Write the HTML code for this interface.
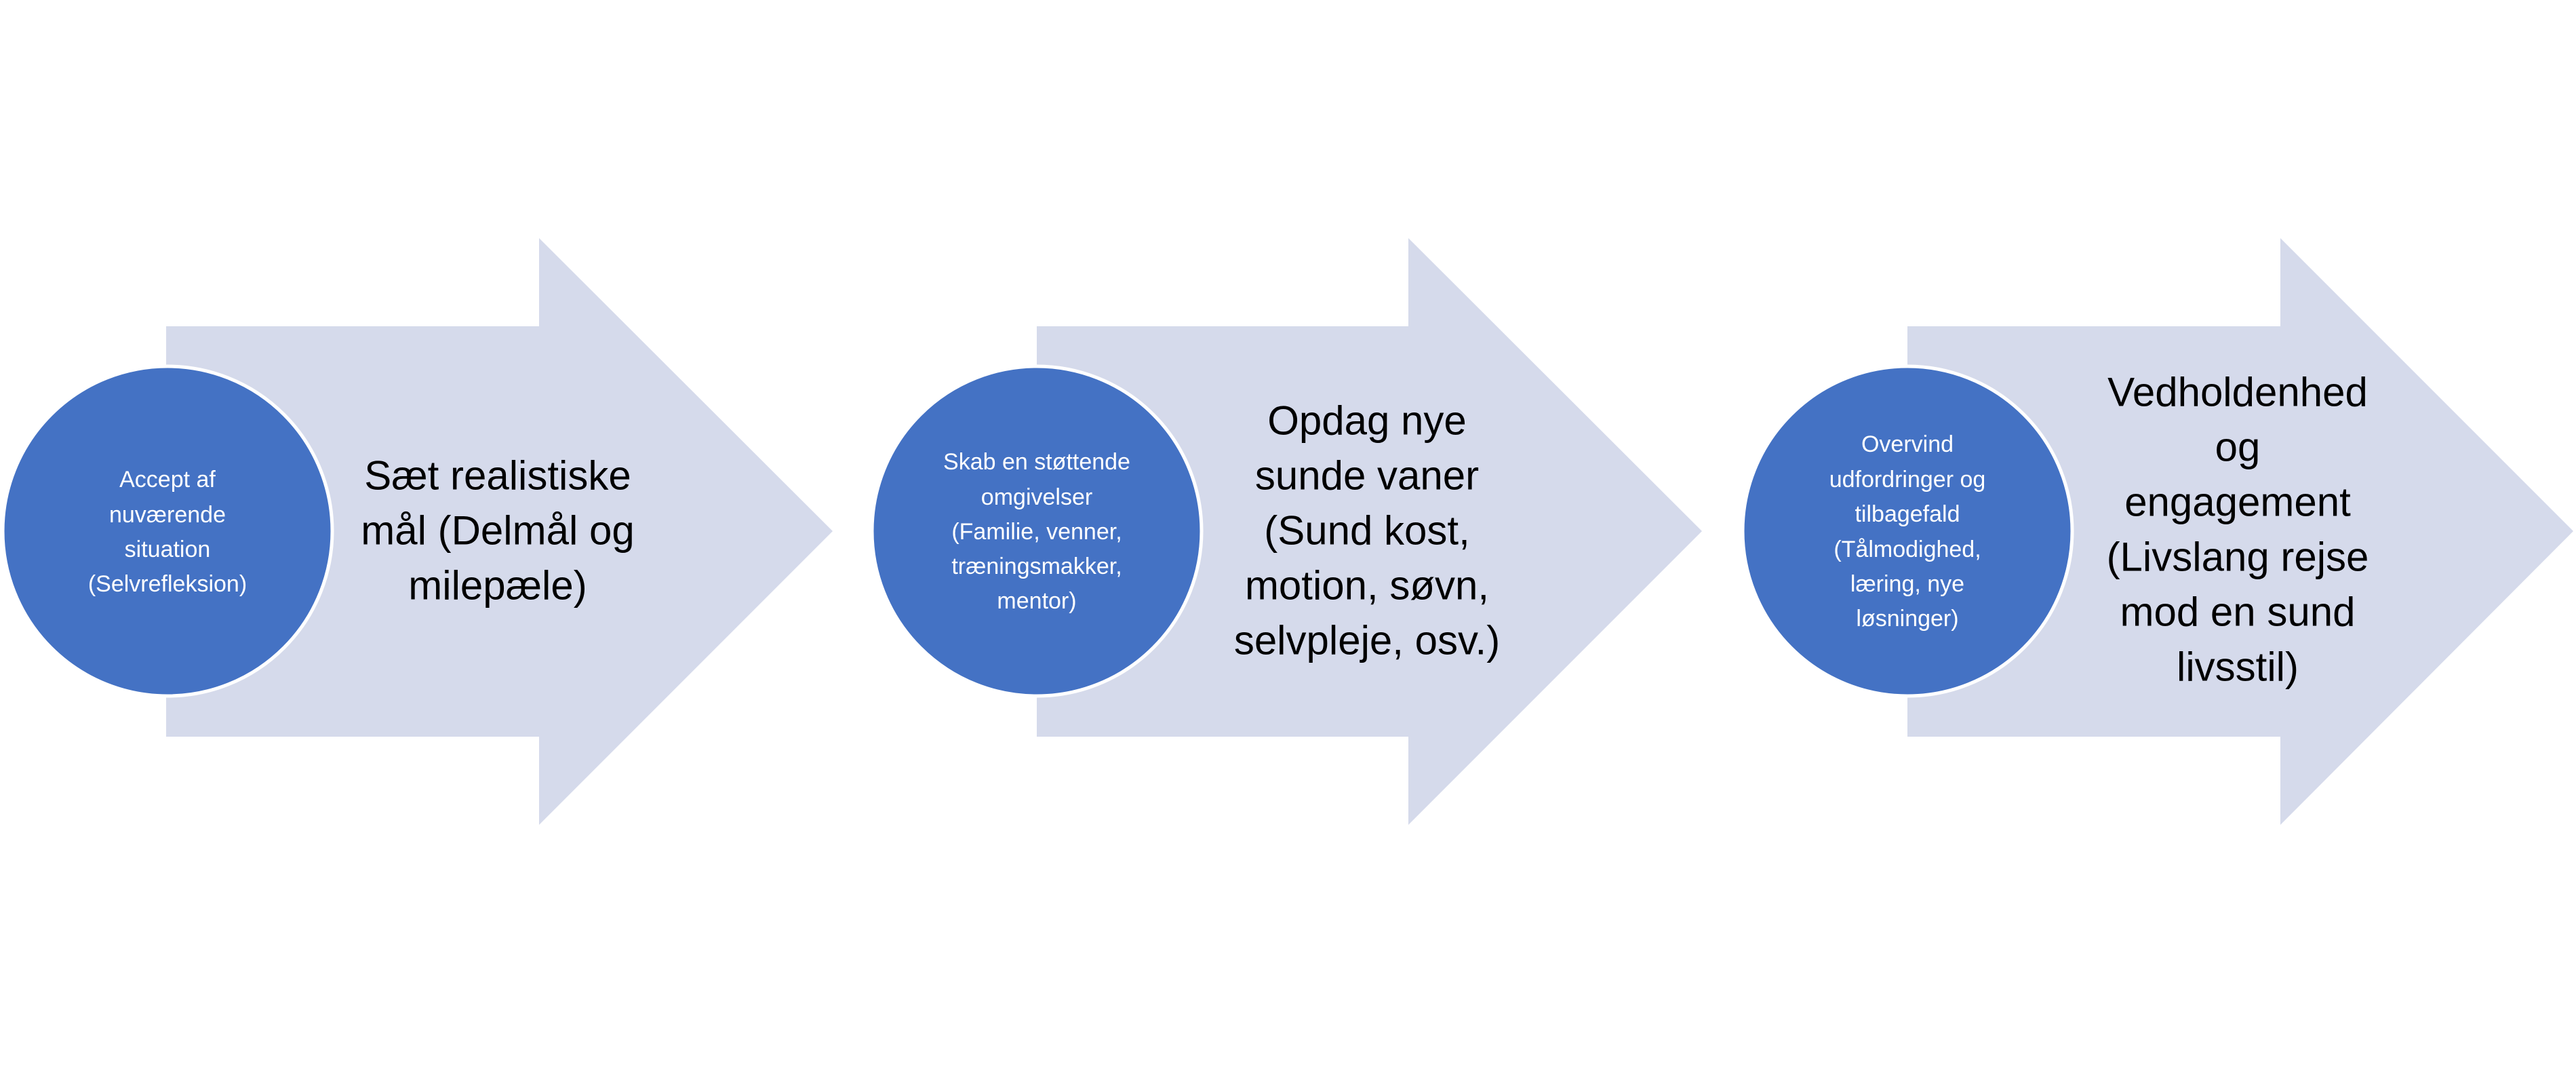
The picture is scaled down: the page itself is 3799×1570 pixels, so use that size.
<!DOCTYPE html>
<html><head><meta charset="utf-8"><style>
html,body{margin:0;padding:0;background:#fff;}
svg{display:block;}
text{font-family:"Liberation Sans",sans-serif;text-anchor:middle;dominant-baseline:central;}
.b{font-size:60px;fill:#000;}
.s{font-size:34px;fill:#fff;}
</style></head><body>
<svg width="3799" height="1570" viewBox="0 0 3799 1570" xmlns="http://www.w3.org/2000/svg">
<g fill="#D5DAEB">
<polygon points="245,481 795,481 795,351 1228,783 795,1216 795,1086 245,1086"/>
<polygon points="1529,481 2077,481 2077,351 2510,783 2077,1216 2077,1086 1529,1086"/>
<polygon points="2813,481 3363,481 3363,351 3795,783 3363,1216 3363,1086 2813,1086"/>
</g>
<g fill="#4472C4" stroke="#fff" stroke-width="5">
<circle cx="247" cy="783" r="243"/>
<circle cx="1529" cy="783" r="243"/>
<circle cx="2813" cy="783" r="243"/>
</g>
<g class="s">
<text class="s" x="247" y="707">Accept af</text>
<text class="s" x="247" y="759">nuværende</text>
<text class="s" x="247" y="810">situation</text>
<text class="s" x="247" y="861">(Selvrefleksion)</text>

<text class="s" x="1529" y="681">Skab en støttende</text>
<text class="s" x="1529" y="733">omgivelser</text>
<text class="s" x="1529" y="784">(Familie, venner,</text>
<text class="s" x="1529" y="835">træningsmakker,</text>
<text class="s" x="1529" y="886">mentor)</text>

<text class="s" x="2813" y="655">Overvind</text>
<text class="s" x="2813" y="707">udfordringer og</text>
<text class="s" x="2813" y="758">tilbagefald</text>
<text class="s" x="2813" y="810">(Tålmodighed,</text>
<text class="s" x="2813" y="861">læring, nye</text>
<text class="s" x="2813" y="912">løsninger)</text>
</g>
<g>
<text class="b" x="734" y="701">Sæt realistiske</text>
<text class="b" x="734" y="782">mål (Delmål og</text>
<text class="b" x="734" y="863">milepæle)</text>

<text class="b" x="2016" y="620">Opdag nye</text>
<text class="b" x="2016" y="701">sunde vaner</text>
<text class="b" x="2016" y="782">(Sund kost,</text>
<text class="b" x="2016" y="863">motion, søvn,</text>
<text class="b" x="2016" y="944">selvpleje, osv.)</text>

<text class="b" x="3300" y="578">Vedholdenhed</text>
<text class="b" x="3300" y="659">og</text>
<text class="b" x="3300" y="740">engagement</text>
<text class="b" x="3300" y="821">(Livslang rejse</text>
<text class="b" x="3300" y="902">mod en sund</text>
<text class="b" x="3300" y="983">livsstil)</text>
</g>
</svg>
</body></html>
